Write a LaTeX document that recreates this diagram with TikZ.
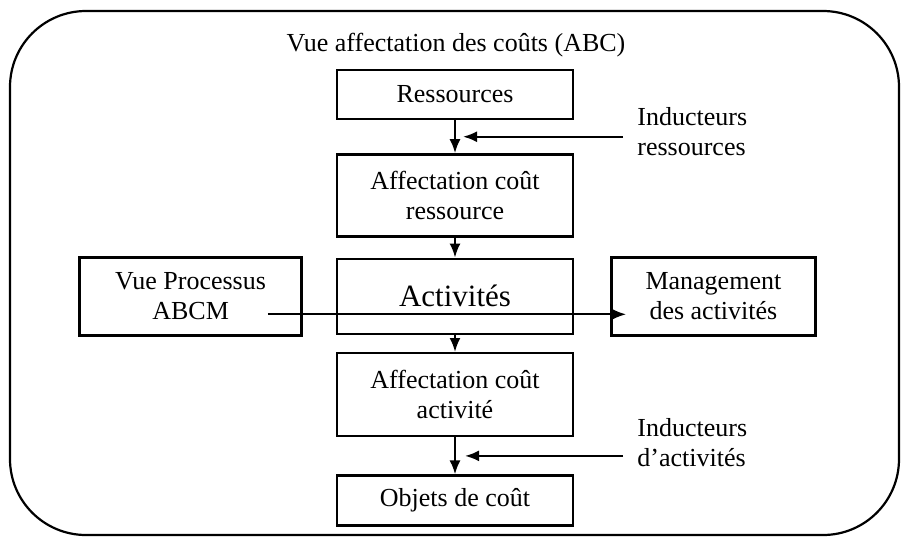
\documentclass[tikz,border=0pt]{standalone}
\usepackage{fontspec}
\setmainfont{Liberation Serif}
\usetikzlibrary{positioning, arrows.meta, calc}
\newcommand{\txtsize}{\fontsize{13pt}{15pt}\selectfont}
\newcommand{\bigsize}{\fontsize{15.5pt}{18pt}\selectfont}

\begin{document}
\begin{tikzpicture}[
    font=\txtsize,
    box/.style={draw, line width=1.2pt, minimum width=118pt, inner sep=0pt, align=center},
    sidebox/.style={box, minimum height=39pt},
    lbl/.style={inner sep=0pt, align=left, anchor=west},
    ttl/.style={inner sep=0pt},
    arrow/.style={-{Latex[length=7pt,width=5.5pt]}, line width=1.1pt},
    frame/.style={line width=1.1pt, rounded corners=38pt},
]
\useasboundingbox (0,0) rectangle (452pt,-268.5pt);

% ------------------------------------------------------------ frame ---
\draw[frame] (5pt,-5.5pt) rectangle (449.5pt,-267.5pt);
\node[ttl] (title) at (228pt,-22.5pt) {Vue affectation des coûts (ABC)};

% ---------------------------------------------------- central column ---
\node[box, minimum height=24.5pt] (res) at (227.5pt,-47.25pt) {Ressources};
\node[box, minimum height=41pt, below=16.5pt of res] (acr) {Affectation coût\\ressource};
\node[box, minimum height=37.5pt, below=10pt of acr, font=\bigsize] (act) {Activités};
\node[box, minimum height=41.5pt, below=8.5pt of act] (aca) {Affectation coût\\activité};
\node[box, minimum height=25pt, below=18.5pt of aca] (obj) {Objets de coût};

\draw[arrow] (res) -- (acr);
\draw[arrow] (acr) -- (act);
\draw[arrow] (act) -- (aca);
\draw[arrow] (aca) -- (obj);

% ---------------------------------------------------------- drivers ---
\node[lbl] (indres) at (318.5pt,-66pt) {Inducteurs\\ressources};
\coordinate (jres) at ($(res.south)!0.5!(acr.north)+(4pt,0)$);
\draw[arrow, shorten <=7pt] (indres.west |- jres) -- (jres);

\node[lbl] (indact) at (318.5pt,-221.5pt) {Inducteurs\\d'activités};
\coordinate (jact) at ($(aca.south)!0.5!(obj.north)+(5pt,0)$);
\draw[arrow, shorten <=7pt] (indact.west |- jact) -- (jact);

% -------------------------------------------------------- side boxes ---
\node[sidebox, minimum width=111pt, left=16.5pt of act] (vue) {Vue Processus\\ABCM};
\node[sidebox, minimum width=102pt, right=18pt of act] (mgmt) {Management\\des activités};

\coordinate (abcm) at ($(vue.east)+(-17.5pt,-9pt)$);
\coordinate (mgin) at ($(mgmt.west |- abcm)+(8pt,0)$);
\draw[arrow] (abcm) -- (mgin);

\end{tikzpicture}
\end{document}
